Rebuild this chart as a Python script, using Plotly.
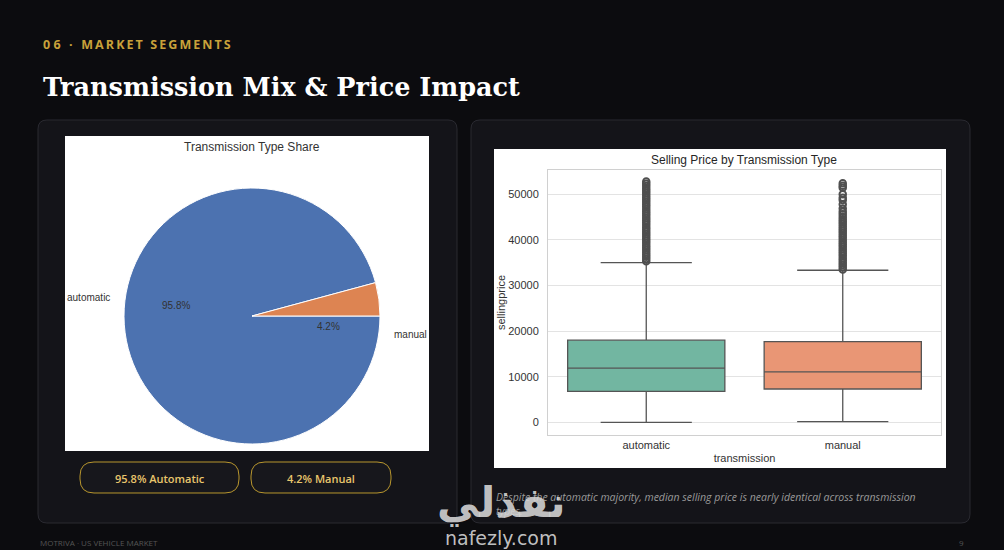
import math
import plotly.graph_objects as go

W, H = 1004, 550

# pie data
pie_labels = ["automatic", "manual"]
pie_shares = [95.8, 4.2]
pie_colors = ["#4c72b0", "#dd8452"]

# box plot data (precomputed stats)
box_cats = ["automatic", "manual"]
box_q1 = [6800, 7300]
box_median = [11900, 11050]
box_q3 = [18000, 17700]
box_low = [1, 150]
box_high = [35000, 33350]
box_colors = ["#72b6a1", "#e99675"]
auto_outliers = [35300, 35800, 36300, 36800, 37300, 37800, 38300, 38800, 39300, 39800,
                 40300, 40800, 41300, 41800, 42300, 42800, 43300, 43800, 44300, 44800,
                 45300, 45800, 46300, 46800, 47300, 47800, 48300, 48800, 49300, 49800,
                 50300, 50800, 51300, 51800, 52300, 52800]
manual_outliers = [33500, 34000, 34500, 35000, 35500, 36000, 36500, 37000, 37500, 38000,
                   38500, 39000, 39500, 40000, 40500, 41000, 41500, 42000, 42500, 43000,
                   43500, 44000, 44500, 45000, 45600, 46200, 46900, 47800, 48750, 49250,
                   50000, 51450, 51900, 52400]


def px(x):
    return x / W


def py(y):
    return 1 - y / H


def rrect(x0, y0, x1, y1, r):
    pts = [("M", x0 + r, y0), ("L", x1 - r, y0), ("Q", x1, y0, x1, y0 + r),
           ("L", x1, y1 - r), ("Q", x1, y1, x1 - r, y1), ("L", x0 + r, y1),
           ("Q", x0, y1, x0, y1 - r), ("L", x0, y0 + r), ("Q", x0, y0, x0 + r, y0)]
    s = ""
    for p in pts:
        cmd, coords = p[0], p[1:]
        s += cmd + " "
        for i in range(0, len(coords), 2):
            s += f"{px(coords[i]):.5f},{py(coords[i+1]):.5f} "
    return s + "Z"


fig = go.Figure()

# pie (matplotlib style: start at 3 o'clock, counterclockwise)
cx, cy, R = 252, 316, 128
fig.add_trace(go.Pie(
    labels=pie_labels, values=pie_shares, sort=False,
    direction="counterclockwise", rotation=90,
    marker=dict(colors=pie_colors, line=dict(color="white", width=1)),
    textinfo="none", hoverinfo="label+percent", showlegend=False,
    domain=dict(x=[px(cx - R), px(cx + R)], y=[py(cy + R), py(cy - R)]),
))

# box plot
for i, cat in enumerate(box_cats):
    fig.add_trace(go.Box(
        x=[cat], q1=[box_q1[i]], median=[box_median[i]], q3=[box_q3[i]],
        lowerfence=[box_low[i]], upperfence=[box_high[i]],
        fillcolor=box_colors[i], line=dict(color="#555555", width=1.3),
        width=0.8, whiskerwidth=0.58, showlegend=False, boxpoints=False,
    ))
fig.add_trace(go.Scatter(
    x=["automatic"] * len(auto_outliers) + ["manual"] * len(manual_outliers),
    y=auto_outliers + manual_outliers, mode="markers",
    marker=dict(symbol="circle-open", size=6.5, color="#4f4f4f", line=dict(width=2)),
    showlegend=False, hoverinfo="y",
))

shapes = [
    dict(type="path", path=rrect(38, 120, 457, 523, 9), xref="paper", yref="paper",
         fillcolor="#141419", line=dict(color="#2a2a31", width=1), layer="below"),
    dict(type="path", path=rrect(471, 120, 970, 523, 9), xref="paper", yref="paper",
         fillcolor="#141419", line=dict(color="#2a2a31", width=1), layer="below"),
    dict(type="rect", x0=px(65), x1=px(429), y0=py(451), y1=py(136), xref="paper", yref="paper",
         fillcolor="white", line=dict(width=0), layer="below"),
    dict(type="rect", x0=px(494), x1=px(946), y0=py(468), y1=py(149), xref="paper", yref="paper",
         fillcolor="white", line=dict(width=0), layer="below"),
    dict(type="path", path=rrect(80, 462, 239, 493, 14), xref="paper", yref="paper",
         fillcolor="#17171c", line=dict(color="#b8962e", width=1)),
    dict(type="path", path=rrect(251, 462, 391, 493, 14), xref="paper", yref="paper",
         fillcolor="#17171c", line=dict(color="#b8962e", width=1)),
]

ann = []


def text(x, y, s, size, color, family="Liberation Sans", xanchor="center", weight="normal", style="normal", yanchor="middle"):
    ann.append(dict(x=px(x), y=py(y), xref="paper", yref="paper", text=s, showarrow=False,
                    xanchor=xanchor, yanchor=yanchor,
                    font=dict(size=size, color=color, family=family, weight=weight, style=style)))


text(41, 45, "0 6 \u2009 \u00b7 \u2009 M\u2009A\u2009R\u2009K\u2009E\u2009T\u2009 \u2009S\u2009E\u2009G\u2009M\u2009E\u2009N\u2009T\u2009S",
     12.5, "#c9a23a", "Open Sans", "left", "bold")
text(41, 87, "Transmission Mix &amp; Price Impact", 25.5, "#ffffff", "DejaVu Serif", "left", "bold")

# pie title and labels
text(252, 147, "Transmission Type Share", 12, "#333333")
cum = 0
for lab, share in zip(pie_labels, pie_shares):
    mid = math.radians((cum + share / 2) / 100 * 360)
    cum += share
    lx, ly = cx + 1.1 * R * math.cos(mid), cy - 1.1 * R * math.sin(mid)
    tx, ty = cx + 0.6 * R * math.cos(mid), cy - 0.6 * R * math.sin(mid)
    text(lx, ly, lab, 10, "#333333", xanchor="right" if math.cos(mid) < 0 else "left")
    text(tx, ty, f"{share}%", 10, "#333333")

# buttons
text(160, 478, f"{pie_shares[0]}% Automatic", 11, "#e9c66c", "Open Sans", weight=600)
text(321, 478, f"{pie_shares[1]}% Manual", 11, "#e9c66c", "Open Sans", weight=600)

# box title
text(744, 160, "Selling Price by Transmission Type", 12, "#262626")

# caption
text(494, 497, "Despite the automatic majority, median selling price is nearly identical across transmission",
     10.5, "#9a9a9a", "Open Sans", "left", style="italic")
text(494, 511, "types.", 10.5, "#9a9a9a", "Open Sans", "left", style="italic")

# footer
text(38, 550, "MOTRIVA \u00b7 US VEHICLE MARKET", 8, "#555555", "Open Sans", "left", yanchor="bottom")
text(966, 550, "9", 8, "#555555", "Open Sans", "right", yanchor="bottom")

# watermark
text(501, 503, "\u0646\u0641\u0630\u0644\u064a", 42, "rgba(215,215,215,0.9)", "DejaVu Sans", weight="bold")
text(501, 538, "nafezly.com", 19, "rgba(215,215,215,0.9)", "DejaVu Sans")

fig.update_layout(
    width=W, height=H, margin=dict(l=0, r=0, t=0, b=0),
    paper_bgcolor="#0c0c0f", plot_bgcolor="white",
    boxmode="overlay", shapes=shapes, annotations=ann,
    font=dict(family="Liberation Sans", color="#333333"),
    xaxis=dict(domain=[px(548), px(941)], range=[-0.5, 1.5], showgrid=False,
               showline=True, mirror=True, linecolor="#d0d0d0", linewidth=1,
               tickfont=dict(size=11, color="#333333"), ticks="",
               title=dict(text="transmission", font=dict(size=11, color="#333333"), standoff=4)),
    yaxis=dict(domain=[py(435), py(170)], range=[-2785, 55330],
               tickvals=[0, 10000, 20000, 30000, 40000, 50000], tickformat="d",
               showgrid=True, gridcolor="#e3e3e3", zeroline=False,
               showline=True, mirror=True, linecolor="#d0d0d0", linewidth=1,
               tickfont=dict(size=11, color="#333333"), ticks="", ticklabelstandoff=6,
               title=dict(text="sellingprice", font=dict(size=11, color="#333333"), standoff=0)),
)

fig.write_html("out.html", config={"displayModeBar": False},
               post_script="document.body.style.margin='0';document.body.style.background='#0c0c0f';")
